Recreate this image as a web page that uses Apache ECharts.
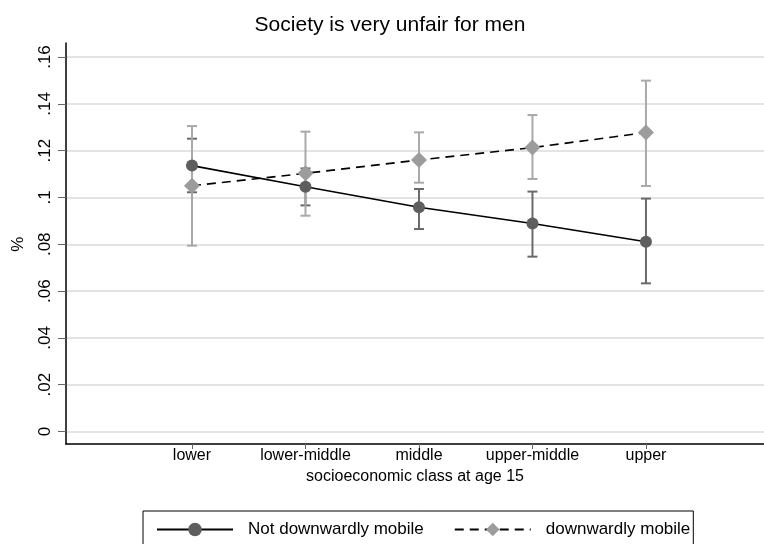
<!DOCTYPE html>
<html>
<head>
<meta charset="utf-8">
<script src="https://cdn.jsdelivr.net/npm/echarts@6/dist/echarts.min.js"></script>
<style>html,body{margin:0;padding:0;background:#fff;}#chart{width:764px;height:544px;}</style>
</head>
<body>
<div id="chart"></div>
<script>
const categories = ['lower', 'lower-middle', 'middle', 'upper-middle', 'upper'];
const catPos = [1, 2, 3, 4, 5];
const notDownMean = [0.1136, 0.1046, 0.0958, 0.0889, 0.0811];
const notDownLo   = [0.1022, 0.0966, 0.0865, 0.0747, 0.0633];
const notDownHi   = [0.1251, 0.1124, 0.1036, 0.1025, 0.0995];
const downMean = [0.1050, 0.1103, 0.1160, 0.1213, 0.1277];
const downLo   = [0.0794, 0.0922, 0.1063, 0.1079, 0.1049];
const downHi   = [0.1305, 0.1281, 0.1278, 0.1352, 0.1499];
const yTickValues = [0, 0.02, 0.04, 0.06, 0.08, 0.1, 0.12, 0.14, 0.16];

const FONT = '"Liberation Sans", Arial, Helvetica, sans-serif';
const X_MIN = -0.11, X_MAX = 6.04;

function fmtY(v) {
  if (Math.abs(v) < 1e-9) return '0';
  return String(+v.toFixed(2)).replace(/^0/, '');
}

function errData(lo, hi) {
  return catPos.map((x, i) => [x, lo[i], hi[i]]);
}

function errRender(color) {
  return function (params, api) {
    const x = api.value(0);
    const top = api.coord([x, api.value(2)]);
    const bot = api.coord([x, api.value(1)]);
    const hw = 5;
    const style = { stroke: color, lineWidth: 2, fill: null };
    return {
      type: 'group',
      children: [
        { type: 'line', shape: { x1: top[0], y1: top[1], x2: bot[0], y2: bot[1] }, style },
        { type: 'line', shape: { x1: top[0] - hw, y1: top[1], x2: top[0] + hw, y2: top[1] }, style },
        { type: 'line', shape: { x1: bot[0] - hw, y1: bot[1], x2: bot[0] + hw, y2: bot[1] }, style }
      ]
    };
  };
}

const chart = echarts.init(document.getElementById('chart'), null, { renderer: 'canvas' });
chart.setOption({
  animation: false,
  backgroundColor: '#ffffff',
  textStyle: { fontFamily: FONT },
  title: {
    text: 'Society is very unfair for men',
    left: 385, textAlign: 'center', top: 10,
    textStyle: { fontFamily: FONT, fontSize: 21, fontWeight: 'normal', color: '#000' }
  },
  legend: {
    data: ['Not downwardly mobile', 'downwardly mobile'],
    left: 143, top: 511,
    padding: [10, 3, 10, 13],
    borderColor: '#000', borderWidth: 1,
    itemWidth: 76, itemHeight: 17, itemGap: 30,
    textStyle: { fontFamily: FONT, fontSize: 17, color: '#000', padding: [0, 0, 0, 10] }
  },
  grid: [
    { left: 66, right: 0, top: 57, bottom: 112.5, containLabel: false },
    { left: 66, right: 0, top: 43, bottom: 100, containLabel: false }
  ],
  xAxis: [
    {
      type: 'value', gridIndex: 0, min: X_MIN, max: X_MAX,
      axisLine: { show: false, onZero: false }, axisTick: { show: false }, axisLabel: { show: false },
      splitLine: { show: false }
    },
    {
      type: 'value', gridIndex: 1, min: X_MIN, max: X_MAX,
      axisLine: { show: true, onZero: false, lineStyle: { color: '#000', width: 1.5 } },
      axisTick: { show: true, customValues: catPos, length: 5, lineStyle: { color: '#666' } },
      axisLabel: {
        show: true, customValues: catPos, margin: 4,
        fontFamily: FONT, fontSize: 16, color: '#000',
        formatter: v => categories[Math.round(v) - 1] || ''
      },
      splitLine: { show: false },
      name: 'socioeconomic class at age 15', nameLocation: 'middle', nameGap: 24,
      nameTextStyle: { fontFamily: FONT, fontSize: 16, color: '#000' }
    }
  ],
  yAxis: [
    {
      type: 'value', gridIndex: 0, min: 0, max: 0.16, interval: 0.02,
      axisLine: { show: false, onZero: false },
      axisTick: { show: true, length: 8, lineStyle: { color: '#666', width: 1 } },
      axisLabel: {
        show: true, rotate: 90, margin: 12, formatter: fmtY,
        fontFamily: FONT, fontSize: 17, color: '#000'
      },
      splitLine: { show: true, lineStyle: { color: '#e4e4e4', width: 2 } },
      name: '%', nameLocation: 'middle', nameGap: 39, nameRotate: 90,
      nameTextStyle: { fontFamily: FONT, fontSize: 17, color: '#000' }
    },
    {
      type: 'value', gridIndex: 1, min: 0, max: 1,
      axisLine: { show: true, onZero: false, lineStyle: { color: '#000', width: 1.5 } },
      axisTick: { show: false }, axisLabel: { show: false }, splitLine: { show: false }
    }
  ],
  series: [
    {
      type: 'custom', name: 'errNot', xAxisIndex: 0, yAxisIndex: 0,
      renderItem: errRender('#6a6a6a'), data: errData(notDownLo, notDownHi), z: 1, silent: true
    },
    {
      type: 'custom', name: 'errDown', xAxisIndex: 0, yAxisIndex: 0,
      renderItem: errRender('#a9a9a9'), data: errData(downLo, downHi), z: 1, silent: true
    },
    {
      type: 'line', name: 'Not downwardly mobile', xAxisIndex: 0, yAxisIndex: 0,
      data: catPos.map((x, i) => [x, notDownMean[i]]),
      symbol: 'circle', symbolSize: 12,
      itemStyle: { color: '#5e5e5e' },
      lineStyle: { color: '#000', width: 1.6, type: 'solid' }, z: 3
    },
    {
      type: 'line', name: 'downwardly mobile', xAxisIndex: 0, yAxisIndex: 0,
      data: catPos.map((x, i) => [x, downMean[i]]),
      symbol: 'diamond', symbolSize: [16, 16],
      itemStyle: { color: '#9c9c9c' },
      lineStyle: { color: '#000', width: 1.6, type: [9, 6] }, z: 3
    }
  ]
});
</script>
</body>
</html>
